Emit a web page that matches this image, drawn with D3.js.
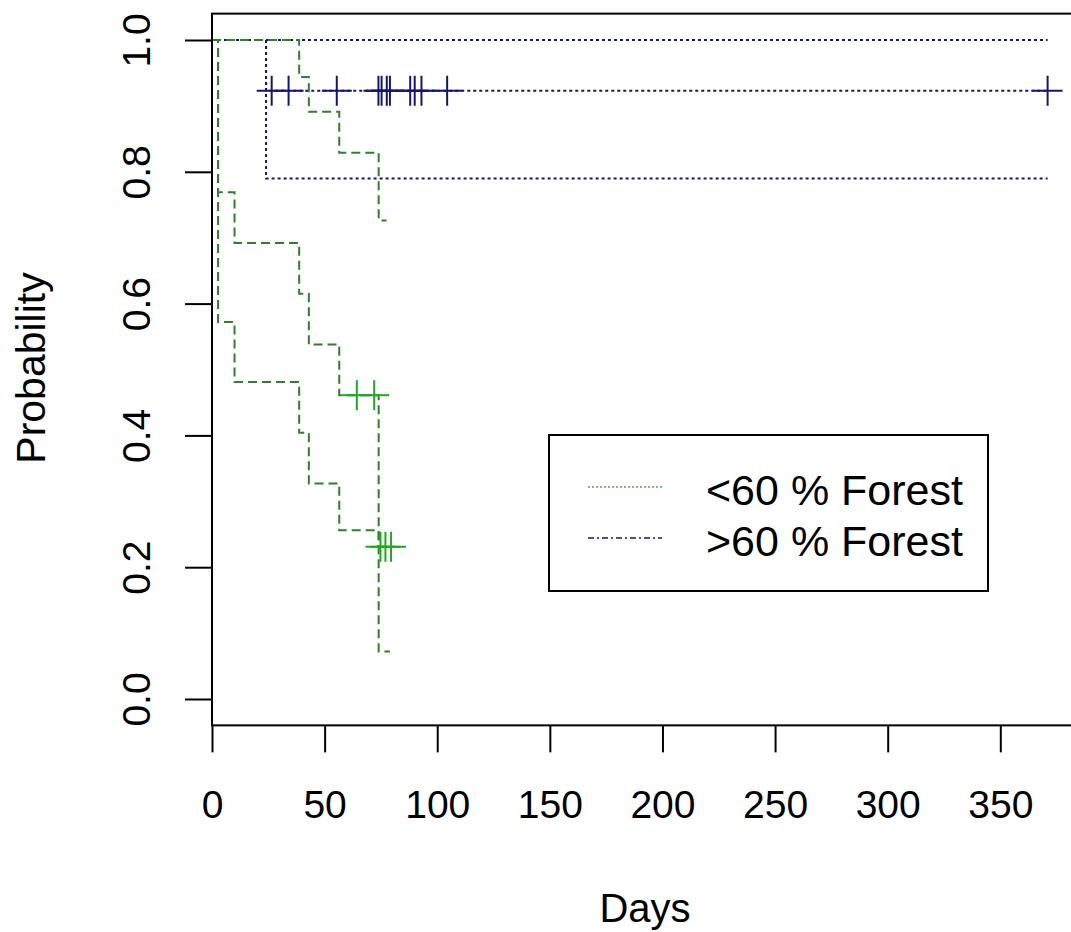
<!DOCTYPE html>
<html>
<head>
<meta charset="utf-8">
<script src="https://cdn.jsdelivr.net/npm/d3@7"></script>
<style>
  html, body { margin: 0; padding: 0; background: #fff; }
  svg { display: block; }
  text { font-family: "Liberation Sans", Arial, sans-serif; fill: #000; }
</style>
</head>
<body>
<svg id="chart" width="1071" height="932"></svg>
<script>
// ---------- data ----------
const xTicks = [0, 50, 100, 150, 200, 250, 300, 350];
const yTicks = [0.0, 0.2, 0.4, 0.6, 0.8, 1.0];
const seriesNames = ["<60 % Forest", ">60 % Forest"];

// <60 % Forest (green): Kaplan-Meier estimate and confidence limits (step curves)
const lowEstTimes  = [0, 2.7, 10, 38.7, 43, 56.5, 74, 79.5];
const lowEstSurv   = [1, 0.769, 0.692, 0.615, 0.538, 0.461, 0.231, 0.231];
const lowUpTimes   = [0, 38.7, 43, 56.5, 74, 77.5];
const lowUpSurv    = [1, 0.944, 0.891, 0.829, 0.726, 0.726];
const lowLoTimes   = [0, 2.7, 10, 38.7, 43, 56.5, 74, 79];
const lowLoSurv    = [1, 0.572, 0.481, 0.404, 0.327, 0.256, 0.072, 0.072];
const lowCensTimes = [64.3, 72, 74.8, 77, 79.5];
const lowCensSurv  = [0.461, 0.461, 0.231, 0.231, 0.231];

// >60 % Forest (blue)
const highEstTimes  = [0, 24, 371];
const highEstSurv   = [1, 0.923, 0.923];
const highUpTimes   = [0, 371];
const highUpSurv    = [1, 1];
const highLoTimes   = [0, 24, 371];
const highLoSurv    = [1, 0.79, 0.79];
const highCensTimes = [26.5, 34, 55.4, 73.9, 75.3, 77.6, 79, 88, 90, 93, 104.4, 371];
const highCensSurv  = highCensTimes.map(() => 0.923);

// ---------- layout ----------
const svg = d3.select("#chart");
const x = d3.scaleLinear().domain([0, 387]).range([212, 212 + 387 * 2.2523]);
const y = d3.scaleLinear().domain([0, 1]).range([699, 40]);
const boxTop = y(1.04), boxBottom = y(-0.04), boxLeft = x(0), boxRight = x(387);

const green = "#2f7f2f", greenCens = "#22a822";
const blue = "#16166a";

const stepLine = d3.line().x(d => x(d[0])).y(d => y(d[1])).curve(d3.curveStepAfter);
const zip = (a, b) => a.map((t, i) => [t, b[i]]);

function drawCurve(times, surv, color, dash, width) {
  svg.append("path")
    .attr("d", stepLine(zip(times, surv)))
    .attr("fill", "none")
    .attr("stroke", color)
    .attr("stroke-width", width)
    .attr("stroke-dasharray", dash);
}
function drawCens(times, surv, color, width) {
  const g = svg.append("g");
  zip(times, surv).forEach(([t, s]) => {
    const cx = x(t), cy = y(s);
    g.append("line").attr("x1", cx - 15).attr("x2", cx + 15).attr("y1", cy).attr("y2", cy)
      .attr("stroke", color).attr("stroke-width", width);
    g.append("line").attr("x1", cx).attr("x2", cx).attr("y1", cy - 15).attr("y2", cy + 15)
      .attr("stroke", color).attr("stroke-width", width);
  });
}

// blue curves (dotted)
drawCurve(highUpTimes, highUpSurv, blue, "3,3", 2);
drawCurve(highLoTimes, highLoSurv, blue, "3,3", 2);
drawCurve(highEstTimes, highEstSurv, blue, "3,3", 2);
// green curves (dashed)
drawCurve(lowUpTimes, lowUpSurv, green, "9,5", 2);
drawCurve(lowLoTimes, lowLoSurv, green, "9,5", 2);
drawCurve(lowEstTimes, lowEstSurv, green, "9,5", 2);
// censor marks
drawCens(highCensTimes, highCensSurv, blue, 2);
drawCens(lowCensTimes, lowCensSurv, greenCens, 2);

// box
svg.append("rect")
  .attr("x", boxLeft).attr("y", boxTop)
  .attr("width", boxRight - boxLeft).attr("height", boxBottom - boxTop)
  .attr("fill", "none").attr("stroke", "#000").attr("stroke-width", 2);

// x axis
const xAxis = d3.axisBottom(x).tickValues(xTicks).tickSize(27).tickPadding(38).tickFormat(d3.format("d"));
const gx = svg.append("g").attr("transform", `translate(0,${boxBottom})`).call(xAxis);
gx.select(".domain").remove();
gx.selectAll(".tick line").attr("stroke", "#000").attr("stroke-width", 2);
gx.selectAll(".tick text").attr("font-size", 39).attr("fill", "#000")
  .attr("font-family", "Liberation Sans, Arial, sans-serif");

// y axis
const yAxis = d3.axisLeft(y).tickValues(yTicks).tickSize(27).tickFormat(d3.format(".1f"));
const gy = svg.append("g").attr("transform", `translate(${boxLeft},0)`).call(yAxis);
gy.select(".domain").remove();
gy.selectAll(".tick line").attr("stroke", "#000").attr("stroke-width", 2);
gy.selectAll(".tick text").remove();
gy.selectAll(".tick").append("text")
  .attr("transform", "translate(-62,0) rotate(-90)")
  .attr("text-anchor", "middle")
  .attr("font-size", 39)
  .attr("fill", "#000")
  .attr("font-family", "Liberation Sans, Arial, sans-serif")
  .text(d => d3.format(".1f")(d));

// axis titles
svg.append("text").attr("x", 645).attr("y", 922).attr("text-anchor", "middle")
  .attr("font-size", 40).text("Days");
svg.append("text").attr("transform", "translate(45,368) rotate(-90)").attr("text-anchor", "middle")
  .attr("font-size", 41).text("Probability");

// legend
svg.append("rect").attr("x", 549).attr("y", 435).attr("width", 439).attr("height", 156)
  .attr("fill", "#fff").attr("stroke", "#000").attr("stroke-width", 2);
const legendStyles = [
  { color: "#5aa85a", dash: "2,2", y: 487 },
  { color: blue, dash: "6,3,2,3", y: 538 }
];
seriesNames.forEach((name, i) => {
  const st = legendStyles[i];
  svg.append("line").attr("x1", 588).attr("x2", 662).attr("y1", st.y).attr("y2", st.y)
    .attr("stroke", st.color).attr("stroke-width", 1.5).attr("stroke-dasharray", st.dash);
  svg.append("text").attr("x", 706).attr("y", st.y + 18).attr("font-size", 43).text(name);
});
</script>
</body>
</html>
